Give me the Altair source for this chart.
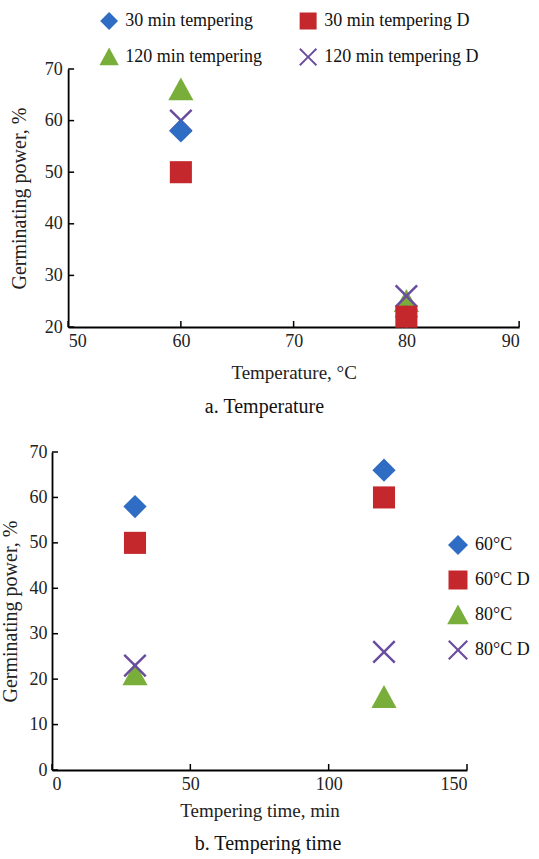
import altair as alt
import pandas as pd

FONT = "Liberation Serif"

# ---- data: panel a (temperature) ----
temps = [60, 80]
a_series = ["30 min tempering", "30 min tempering D", "120 min tempering", "120 min tempering D"]
a_30 = [58, 22]
a_30D = [50, 22]
a_120 = [66, 25]
a_120D = [60, 26]
a_xticks = [50, 60, 70, 80, 90]
a_yticks = [20, 30, 40, 50, 60, 70]

# ---- data: panel b (tempering time) ----
times = [30, 120]
b_series = ["60°C", "60°C D", "80°C", "80°C D"]
b_60 = [58, 66]
b_60D = [50, 60]
b_80 = [21, 16]
b_80D = [23, 26]
b_xticks = [0, 50, 100, 150]
b_yticks = [0, 10, 20, 30, 40, 50, 60, 70]

colors = ["#2f6cc4", "#c4282d", "#7aae3a", "#6a4c9e"]
DIAMOND = "M0,-1L1,0L0,1L-1,0Z"
SQUARE = "M-0.95,-0.95L0.95,-0.95L0.95,0.95L-0.95,0.95Z"
TRIANGLE = "M0,-1.05L1.08,0.92L-1.08,0.92Z"
d = 0.15
XSHAPE = (f"M0,{-d}L{1-d},-1L1,{-1+d}L{d},0L1,{1-d}L{1-d},1L0,{d}"
          f"L{-1+d},1L-1,{1-d}L{-d},0L-1,{-1+d}L{-1+d},-1Z")
shapes = [DIAMOND, SQUARE, TRIANGLE, XSHAPE]


def rows(xs, series, values, draw_order):
    out = []
    for i in draw_order:
        for x, v in zip(xs, values[i]):
            out.append({"x": x, "y": v, "s": series[i]})
    return pd.DataFrame(out)


# drawing order: triangle, X, diamond, square
order = [2, 3, 0, 1]
df_a = rows(temps, a_series, [a_30, a_30D, a_120, a_120D], order)
df_b = rows(times, b_series, [b_60, b_60D, b_80, b_80D], order)


def panel(df, series, legend_order, xdom, ydom, xticks, yticks, xtitle, W, H,
          legend, caption, ylabpad, ytitlepad, xtitlepad, capoff):
    xaxis = alt.Axis(values=xticks, title=xtitle, tickSize=0, labelPadding=5,
                     titlePadding=xtitlepad, domainColor="black", domainWidth=1.8,
                     grid=False, titleFontSize=19)
    yaxis = alt.Axis(values=yticks, title="Germinating power, %", tickSize=0,
                     labelPadding=ylabpad, domainColor="black", domainWidth=1.8,
                     grid=False, titlePadding=ytitlepad, titleFontSize=20)
    xs = alt.Scale(domain=xdom, nice=False, zero=False)
    ys = alt.Scale(domain=ydom, nice=False, zero=False)
    dom = [series[i] for i in legend_order]
    col_r = [colors[i] for i in legend_order]
    shp_r = [shapes[i] for i in legend_order]

    pts = alt.Chart(df).mark_point(filled=True, size=540, opacity=1, strokeWidth=0).encode(
        x=alt.X("x:Q", scale=xs, axis=xaxis),
        y=alt.Y("y:Q", scale=ys, axis=yaxis),
        color=alt.Color("s:N", scale=alt.Scale(domain=dom, range=col_r), legend=legend),
        shape=alt.Shape("s:N", scale=alt.Scale(domain=dom, range=shp_r), legend=legend),
    )
    xt = alt.Chart(pd.DataFrame({"x": xticks})).mark_rule(color="black", strokeWidth=1.5).encode(
        x=alt.X("x:Q", scale=xs, axis=xaxis),
        y=alt.value(H), y2=alt.value(H - 6),
    )
    yt = alt.Chart(pd.DataFrame({"y": yticks})).mark_rule(color="black", strokeWidth=1.5).encode(
        y=alt.Y("y:Q", scale=ys, axis=yaxis),
        x=alt.value(0), x2=alt.value(6),
    )
    return alt.layer(xt, yt, pts).properties(
        width=W, height=H,
        title=alt.TitleParams(caption, orient="bottom", anchor="middle", frame="bounds",
                              font=FONT, fontSize=20, fontWeight="normal",
                              color="#111", offset=capoff),
    )


legend_a = alt.Legend(title=None, orient="none", legendX=31, legendY=-58, columns=2,
                      columnPadding=36, rowPadding=17, symbolSize=320,
                      labelFont=FONT, labelFontSize=18, labelColor="#111",
                      labelOffset=6)
PAD = 6
legend_b = alt.Legend(title=None, orient="none", legendX=395 - PAD, legendY=82 - PAD,
                      columns=1, padding=PAD, rowPadding=14, symbolSize=400,
                      labelFont=FONT, labelFontSize=18, labelColor="#111",
                      labelOffset=6)

top = panel(df_a, a_series, [0, 2, 1, 3], [50, 90], [20, 70], a_xticks, a_yticks,
            "Temperature, °C", 451, 258, legend_a, "a. Temperature", 6, 15, 13, 15)
bottom = panel(df_b, b_series, [0, 1, 2, 3], [0, 150], [0, 70], b_xticks, b_yticks,
               "Tempering time, min", 415, 318, legend_b, "b. Tempering time", 5, 9, 8, 14)

chart = alt.vconcat(top, bottom, spacing=26, center=True).resolve_scale(
    color="independent", shape="independent", x="independent", y="independent"
).properties(
    padding={"left": 0, "top": 11, "right": 0, "bottom": 0},
    background="white",
).configure_view(stroke=None).configure_axis(
    labelFont=FONT, labelFontSize=18, labelColor="#222",
    titleFont=FONT, titleFontWeight="normal", titleColor="#222",
)

chart.save("out.html", embed_options={"renderer": "svg", "actions": False})
